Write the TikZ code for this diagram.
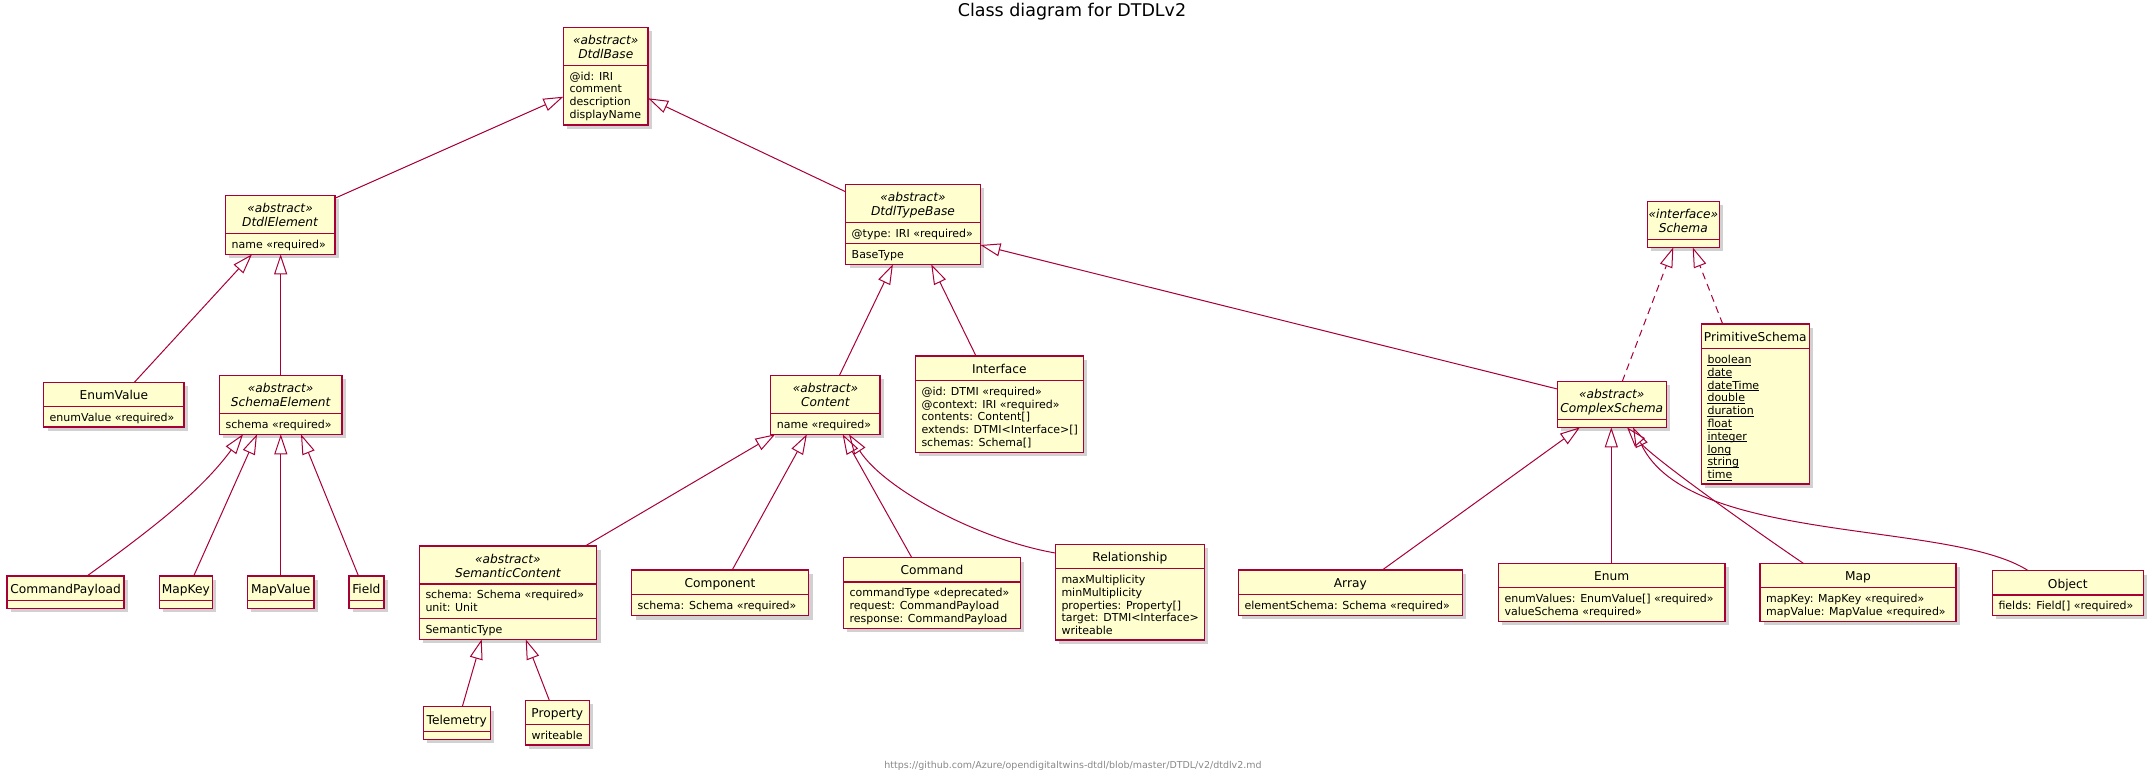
\documentclass[tikz,border=0pt]{standalone}
\usepackage{fontspec}
\setmainfont{DejaVu Sans}
\usetikzlibrary{arrows.meta,shadows,calc}
\definecolor{umlred}{HTML}{A80036}
\definecolor{umlfill}{HTML}{FEFECE}
\definecolor{footgray}{HTML}{888888}
\newcommand\namefont{\fontsize{12.2}{14.2}\selectfont}
\newcommand\attrfont{\fontsize{11}{12.8}\selectfont}
\newcommand\stul[1]{\setbox0\hbox{#1}\rlap{\kern-0.6pt\rule[-2pt]{\dimexpr\wd0+0.6pt\relax}{0.9pt}}\box0}
\tikzset{
 clsbox/.style={draw=umlred, fill=umlfill, line width=1.5pt, inner sep=0pt, outer sep=0pt,
   drop shadow={shadow xshift=4pt, shadow yshift=-4pt, opacity=0.18, fill=black}},
 clsline/.style={draw=umlred, line width=1.5pt},
 nm/.style={inner sep=0pt, anchor=base, font=\namefont},
 anm/.style={inner sep=0pt, anchor=base, font=\namefont\itshape},
 attr/.style={inner sep=0pt, anchor=north west, align=left, font=\attrfont},
 ext/.style={draw=umlred, line width=1pt, line join=miter, -{Triangle[open, length=20pt, width=13pt]}},
 realize/.style={ext, dash pattern=on 7pt off 5pt},
}
\newcommand\umlbox[5]{\node[clsbox, minimum width={#4-#2}, minimum height={#5-#3}] (#1) at ({(#2+#4)/2},{(#3+#5)/2}) {};}
\newcommand\hsep[2]{\draw[clsline] (#1.west |- 0,#2) -- (#1.east |- 0,#2);}
\newcommand\attrs[4]{\node[attr] (#1) at ({#2+6},{#3+5.6}) {\strut #4};}
\begin{document}
\begin{tikzpicture}[x=1pt, y=-1pt]
\useasboundingbox (0,0) rectangle (2156,775);

% title and footer
\node[inner sep=0pt, anchor=base, font=\fontsize{17.5}{20}\selectfont] (title) at (1072,16.7) {Class diagram for DTDLv2};
\node[inner sep=0pt, anchor=base, font=\fontsize{9.5}{11}\selectfont, text=footgray] (footer) at (1073,768) {https://github.com/Azure/opendigitaltwins-dtdl/blob/master/DTDL/v2/dtdlv2.md};

% ---------- classes ----------
% DtdlBase
\umlbox{db}{563.4}{27.3}{648.2}{125}
\hsep{db}{65.3}
\node[anm] (db-s) at (db.north |- 0,44.6) {«abstract»};
\node[anm] (db-n) at (db.north |- 0,58.8) {DtdlBase};
\attrs{db-a}{563.4}{65.3}{@id: IRI\\comment\\description\\displayName}

% DtdlElement
\umlbox{de}{225.4}{195.3}{334.8}{254.3}
\hsep{de}{233.5}
\node[anm] (de-s) at (de.north |- 0,212.6) {«abstract»};
\node[anm] (de-n) at (de.north |- 0,226.8) {DtdlElement};
\attrs{de-a}{225.4}{233.5}{name «required»}

% DtdlTypeBase
\umlbox{dtb}{845.5}{184.3}{980.4}{264.3}
\hsep{dtb}{222.3}
\hsep{dtb}{243.5}
\node[anm] (dtb-s) at (dtb.north |- 0,201.6) {«abstract»};
\node[anm] (dtb-n) at (dtb.north |- 0,215.8) {DtdlTypeBase};
\attrs{dtb-a}{845.5}{222.3}{@type: IRI «required»}
\attrs{dtb-m}{845.5}{243.5}{BaseType}

% Schema
\umlbox{sch}{1647.3}{201.3}{1719.3}{247.3}
\hsep{sch}{239.3}
\node[anm] (sch-s) at (sch.north |- 0,218.6) {«interface»};
\node[anm] (sch-n) at (sch.north |- 0,232.8) {Schema};

% PrimitiveSchema
\umlbox{ps}{1701.3}{324}{1809.3}{484}
\hsep{ps}{348.7}
\node[nm] (ps-n) at (ps.north |- 0,341.3) {PrimitiveSchema};
\attrs{ps-a}{1701.3}{348.7}{\stul{boolean}\\\stul{date}\\\stul{dateTime}\\\stul{double}\\\stul{duration}\\\stul{float}\\\stul{integer}\\\stul{long}\\\stul{string}\\\stul{time}}

% ComplexSchema
\umlbox{cs}{1557.3}{381.3}{1666.3}{427.3}
\hsep{cs}{419.3}
\node[anm] (cs-s) at (cs.north |- 0,398.6) {«abstract»};
\node[anm] (cs-n) at (cs.north |- 0,412.8) {ComplexSchema};

% EnumValue
\umlbox{ev}{43.5}{382.3}{184.2}{427}
\hsep{ev}{406.7}
\node[nm] (ev-n) at (ev.north |- 0,399.6) {EnumValue};
\attrs{ev-a}{43.5}{406.7}{enumValue «required»}

% SchemaElement
\umlbox{se}{219.4}{375.3}{341.9}{434.3}
\hsep{se}{413.5}
\node[anm] (se-s) at (se.north |- 0,392.6) {«abstract»};
\node[anm] (se-n) at (se.north |- 0,406.8) {SchemaElement};
\attrs{se-a}{219.4}{413.5}{schema «required»}

% CommandPayload, MapKey, MapValue, Field
\umlbox{cp}{7.1}{576}{124.1}{608.3}
\hsep{cp}{600.4}
\node[nm] (cp-n) at (cp.north |- 0,593.3) {CommandPayload};
\umlbox{mk}{159.3}{576}{212.3}{608.3}
\hsep{mk}{600.4}
\node[nm] (mk-n) at (mk.north |- 0,593.3) {MapKey};
\umlbox{mv}{247.4}{576}{314.2}{608.3}
\hsep{mv}{600.4}
\node[nm] (mv-n) at (mv.north |- 0,593.3) {MapValue};
\umlbox{fd}{349}{576}{383.8}{608.3}
\hsep{fd}{600.4}
\node[nm] (fd-n) at (fd.north |- 0,593.3) {Field};

% Content
\umlbox{ct}{770.7}{375.3}{880.2}{434.3}
\hsep{ct}{413.5}
\node[anm] (ct-s) at (ct.north |- 0,392.6) {«abstract»};
\node[anm] (ct-n) at (ct.north |- 0,406.8) {Content};
\attrs{ct-a}{770.7}{413.5}{name «required»}

% Interface
\umlbox{ifc}{915.3}{356}{1083.3}{452.3}
\hsep{ifc}{380.5}
\node[nm] (ifc-n) at (ifc.north |- 0,373.3) {Interface};
\attrs{ifc-a}{915.3}{380.5}{@id: DTMI «required»\\@context: IRI «required»\\contents: Content[]\\extends: DTMI<Interface>[]\\schemas: Schema[]}

% SemanticContent
\umlbox{sc}{419.3}{546}{596.5}{639.3}
\hsep{sc}{584}
\hsep{sc}{618.4}
\node[anm] (sc-s) at (sc.north |- 0,563.3) {«abstract»};
\node[anm] (sc-n) at (sc.north |- 0,577.5) {SemanticContent};
\attrs{sc-a}{419.3}{584}{schema: Schema «required»\\unit: Unit}
\attrs{sc-m}{419.3}{618.4}{SemanticType}

% Component
\umlbox{cmp}{631.5}{570}{808.6}{615.7}
\hsep{cmp}{594.3}
\node[nm] (cmp-n) at (cmp.north |- 0,587.3) {Component};
\attrs{cmp-a}{631.5}{594.3}{schema: Schema «required»}

% Command
\umlbox{cmd}{843.4}{557.5}{1020.4}{628.3}
\hsep{cmd}{581.8}
\node[nm] (cmd-n) at (cmd.north |- 0,574.8) {Command};
\attrs{cmd-a}{843.4}{581.8}{commandType «deprecated»\\request: CommandPayload\\response: CommandPayload}

% Relationship
\umlbox{rel}{1055.3}{544.3}{1204.3}{640}
\hsep{rel}{568.7}
\node[nm] (rel-n) at (rel.north |- 0,561.6) {Relationship};
\attrs{rel-a}{1055.3}{568.7}{maxMultiplicity\\minMultiplicity\\properties: Property[]\\target: DTMI<Interface>\\writeable}

% Telemetry, Property
\umlbox{tel}{423.3}{706.7}{490.3}{739.3}
\hsep{tel}{731.3}
\node[nm] (tel-n) at (tel.north |- 0,724) {Telemetry};
\umlbox{prop}{525.3}{700.3}{589.3}{745}
\hsep{prop}{724.5}
\node[nm] (prop-n) at (prop.north |- 0,717.6) {Property};
\attrs{prop-a}{525.3}{724.5}{writeable}

% Array, Enum, Map, Object
\umlbox{arr}{1238.3}{570}{1462.3}{615.3}
\hsep{arr}{594.3}
\node[nm] (arr-n) at (arr.north |- 0,587.3) {Array};
\attrs{arr-a}{1238.3}{594.3}{elementSchema: Schema «required»}
\umlbox{enm}{1498.3}{563.3}{1725}{621.3}
\hsep{enm}{587.7}
\node[nm] (enm-n) at (enm.north |- 0,580.6) {Enum};
\attrs{enm-a}{1498.3}{587.7}{enumValues: EnumValue[] «required»\\valueSchema «required»}
\umlbox{map}{1760}{563.3}{1956}{621.3}
\hsep{map}{587.7}
\node[nm] (map-n) at (map.north |- 0,580.6) {Map};
\attrs{map-a}{1760}{587.7}{mapKey: MapKey «required»\\mapValue: MapValue «required»}
\umlbox{obj}{1992.3}{570.7}{2143.3}{615.3}
\hsep{obj}{595}
\node[nm] (obj-n) at (obj.north |- 0,588) {Object};
\attrs{obj-a}{1992.3}{595}{fields: Field[] «required»}

% ---------- connectors ----------
\draw[ext] ($(de.north east)+(0,3)$) -- (db.west |- 0,96.7);
\draw[ext] (dtb.west |- 0,191.7) -- (db.east |- 0,98.3);
\draw[ext] (ev.north -| 134.4,0) -- (de.south -| 252,0);
\draw[ext] (se.north) -- (se.north |- de.south);
\draw[ext] (cp.north -| 87,0) .. controls (170,516) and (205,485) .. (se.south -| 243,0);
\draw[ext] (mk.north -| 193.7,0) -- (se.south -| 257,0);
\draw[ext] (mv.north) -- (mv.north |- se.south);
\draw[ext] (fd.north -| 358.5,0) -- (se.south -| 301,0);
\draw[ext] (ct.north -| 839.5,0) -- (dtb.south -| 892.9,0);
\draw[ext] (ifc.north -| 976,0) -- (dtb.south -| 931.2,0);
\draw[ext] (cs.west |- 0,389) -- (dtb.east |- 0,245);
\draw[realize] (cs.north -| 1622.3,0) -- (sch.south -| 1673.3,0);
\draw[realize] (ps.north -| 1722.7,0) -- (sch.south -| 1692.7,0);
\draw[ext] (sc.north -| 585.2,0) -- (ct.south -| 775.3,0);
\draw[ext] (cmp.north -| 732.2,0) -- (ct.south -| 806.9,0);
\draw[ext] (cmd.north -| 911.7,0) -- (ct.south -| 842.6,0);
\draw[ext] (rel.west |- 0,553) .. controls (980,540) and (885,490) .. (ct.south -| 849,0);
\draw[ext] (tel.north -| 462.3,0) -- (sc.south -| 481.7,0);
\draw[ext] (prop.north -| 549.3,0) -- (sc.south -| 525.7,0);
\draw[ext] (arr.north -| 1382.3,0) -- (cs.south -| 1580,0);
\draw[ext] (enm.north -| 1611.3,0) -- (cs.south -| 1611.3,0);
\draw[ext] (map.north -| 1803.3,0) .. controls (1763,536) and (1655,460) .. (cs.south -| 1627,0);
\draw[ext] (obj.north -| 2028.3,0) .. controls (1950,520) and (1690,545) .. (cs.south -| 1633,0);
\end{tikzpicture}
\end{document}
